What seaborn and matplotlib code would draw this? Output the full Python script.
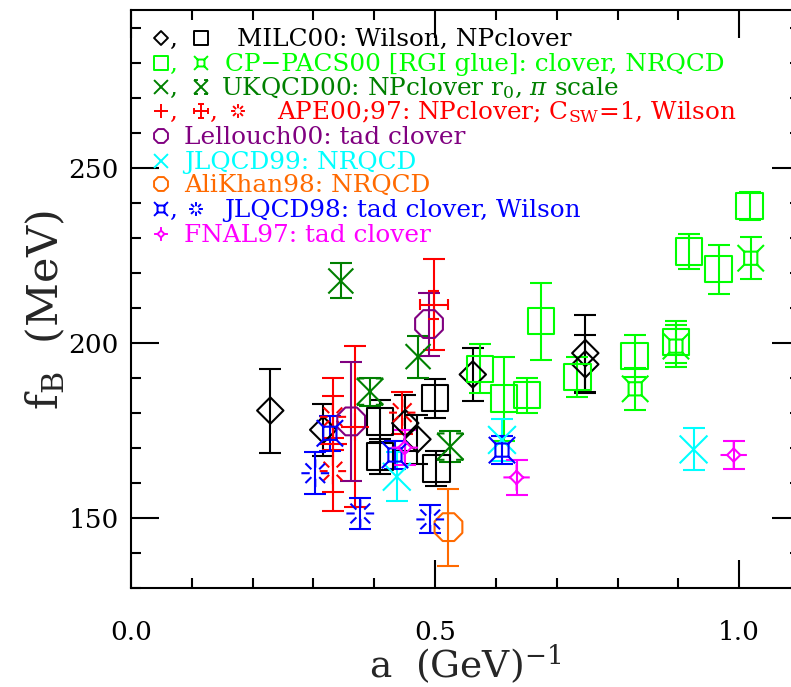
import numpy as np
import matplotlib
matplotlib.use("Agg")
import matplotlib.pyplot as plt
from matplotlib.path import Path
from matplotlib.markers import MarkerStyle
from matplotlib.ticker import MultipleLocator, FixedLocator
import seaborn as sns

# ---------------- data: lattice spacing a (GeV^-1), f_B (MeV), error ----------------
milc_w_a = [0.229, 0.316, 0.451, 0.471, 0.562, 0.747, 0.747]
milc_w_f = [180.6, 175.1, 177.0, 172.4, 190.9, 197.0, 193.8]
milc_w_e = [12.0, 7.5, 8.0, 7.0, 7.7, 11.0, 8.3]

milc_c_a = [0.4095, 0.4095, 0.500, 0.502]
milc_c_f = [177.5, 167.5, 184.1, 164.1]
milc_c_e = [6.0, 5.0, 5.5, 5.0]

cpp_c_a = [0.574, 0.613, 0.651, 0.674, 0.734, 0.828, 0.896, 0.917, 0.966, 1.017]
cpp_c_f = [192.5, 184.0, 185.0, 206.1, 190.1, 196.1, 200.1, 226.0, 221.0, 239.0]
cpp_c_e = [7.0, 12.0, 5.0, 11.0, 5.7, 6.0, 6.0, 5.0, 7.0, 4.0]

cpp_n_a = [0.829, 0.896, 1.019]
cpp_n_f = [186.8, 199.0, 224.1]
cpp_n_e = [6.0, 6.0, 6.0]

ukq_r0_a = [0.345, 0.472]
ukq_r0_f = [217.6, 196.0]
ukq_r0_e = [5.0, 6.0]

ukq_pi_a = [0.393, 0.525]
ukq_pi_f = [186.0, 170.3]
ukq_pi_e = [4.0, 4.5]

ape_np_a = [0.332, 0.368]
ape_np_f = [171.0, 176.0]
ape_np_e = [19.0, 23.0]

ape_csw_a = [0.498]
ape_csw_f = [210.8]
ape_csw_e = [13.0]

ape_w_a = [0.332, 0.332, 0.446]
ape_w_f = [178.8, 163.3, 180.0]
ape_w_e = [6.0, 6.0, 6.0]

lel_a = [0.362, 0.490]
lel_f = [177.5, 205.3]
lel_e = [17.0, 9.0]

jl99_a = [0.437, 0.610, 0.925]
jl99_f = [161.7, 172.2, 169.5]
jl99_e = [7.0, 6.0, 6.0]

ak98_a = [0.522]
ak98_f = [147.3]
ak98_e = [11.0]

jl98_c_a = [0.327, 0.434, 0.610]
jl98_c_f = [174.1, 167.9, 169.3]
jl98_c_e = [5.0, 4.0, 4.0]

jl98_w_a = [0.303, 0.377, 0.492]
jl98_w_f = [162.7, 151.2, 149.5]
jl98_w_e = [6.0, 4.5, 4.0]

fnal_a = [0.450, 0.634, 0.991]
fnal_f = [170.0, 161.5, 167.9]
fnal_e = [5.0, 5.0, 4.0]

legend_labels = [
    "MILC00: Wilson, NPclover",
    "CP\u2212PACS00 [RGI glue]: clover, NRQCD",
    r"UKQCD00: NPclover r$_0$, $\pi$ scale",
    r"APE00;97: NPclover; C$_{\rm SW}$=1, Wilson",
    "Lellouch00: tad clover",
    "JLQCD99: NRQCD",
    "AliKhan98: NRQCD",
    "JLQCD98: tad clover, Wilson",
    "FNAL97: tad clover",
]

# ---------------- custom marker shapes ----------------
def segs(lst):
    v, c = [], []
    for (x0, y0, x1, y1) in lst:
        v += [(x0, y0), (x1, y1)]
        c += [Path.MOVETO, Path.LINETO]
    return Path(v, c)

def closed(pts):
    v = list(pts) + [pts[0]]
    c = [Path.MOVETO] + [Path.LINETO] * (len(pts) - 1) + [Path.CLOSEPOLY]
    return Path(v, c)

diamond = closed([(0, 0.5), (0.5, 0), (0, -0.5), (-0.5, 0)])
square = closed([(-0.5, -0.5), (0.5, -0.5), (0.5, 0.5), (-0.5, 0.5)])
r8 = 0.5 / np.cos(np.pi / 8)
octagon = closed([(r8 * np.cos(np.pi / 8 + k * np.pi / 4), r8 * np.sin(np.pi / 8 + k * np.pi / 4)) for k in range(8)])
cross = segs([(-0.5, -0.5, 0.5, 0.5), (-0.5, 0.5, 0.5, -0.5)])
plus = segs([(-0.5, 0, 0.5, 0), (0, -0.5, 0, 0.5)])
q = 0.25
sqx = segs([(-q, -q, q, -q), (q, -q, q, q), (q, q, -q, q), (-q, q, -q, -q),
            (q, q, 0.5, 0.5), (-q, q, -0.5, 0.5), (q, -q, 0.5, -0.5), (-q, -q, -0.5, -0.5)])
xbar = segs([(-0.5, -0.5, 0.5, 0.5), (-0.5, 0.5, 0.5, -0.5),
             (-0.5, 0.5, -0.22, 0.5), (0.5, 0.5, 0.22, 0.5),
             (-0.5, -0.5, -0.22, -0.5), (0.5, -0.5, 0.22, -0.5)])
pluscap = segs([(-0.5, 0, 0.5, 0), (0, -0.5, 0, 0.5),
                (-0.5, -0.2, -0.5, 0.2), (0.5, -0.2, 0.5, 0.2),
                (-0.2, 0.5, 0.2, 0.5), (-0.2, -0.5, 0.2, -0.5)])
burst_l = []
for k in range(8):
    ang = k * np.pi / 4
    burst_l.append((0.2 * np.cos(ang), 0.2 * np.sin(ang), 0.5 * np.cos(ang), 0.5 * np.sin(ang)))
burst = segs(burst_l)
dplus = Path(list(diamond.vertices * 0.5) + [(-0.5, 0), (-0.25, 0), (0.25, 0), (0.5, 0),
                                             (0, -0.5), (0, -0.25), (0, 0.25), (0, 0.5)],
             list(diamond.codes) + [Path.MOVETO, Path.LINETO] * 4)

BLACK, LIME, DGREEN, RED = "#000000", "#00ff00", "#008000", "#ff0000"
PURPLE, CYAN, ORANGE, BLUE, MAGENTA = "#800080", "#00ffff", "#ff6a00", "#0000ff", "#ff00ff"

series = [
    (milc_w_a, milc_w_f, milc_w_e, diamond, BLACK, 19),
    (milc_c_a, milc_c_f, milc_c_e, square, BLACK, 19),
    (cpp_c_a, cpp_c_f, cpp_c_e, square, LIME, 19),
    (cpp_n_a, cpp_n_f, cpp_n_e, sqx, LIME, 19),
    (ukq_r0_a, ukq_r0_f, ukq_r0_e, cross, DGREEN, 18),
    (ukq_pi_a, ukq_pi_f, ukq_pi_e, xbar, DGREEN, 19),
    (ape_np_a, ape_np_f, ape_np_e, plus, RED, 20),
    (ape_csw_a, ape_csw_f, ape_csw_e, pluscap, RED, 20),
    (ape_w_a, ape_w_f, ape_w_e, burst, RED, 19),
    (lel_a, lel_f, lel_e, octagon, PURPLE, 20),
    (jl99_a, jl99_f, jl99_e, cross, CYAN, 20),
    (ak98_a, ak98_f, ak98_e, octagon, ORANGE, 20),
    (jl98_c_a, jl98_c_f, jl98_c_e, sqx, BLUE, 19),
    (jl98_w_a, jl98_w_f, jl98_w_e, burst, BLUE, 20),
    (fnal_a, fnal_f, fnal_e, dplus, MAGENTA, 19),
]

# ---------------- figure ----------------
sns.set_style("ticks")
plt.rcParams["font.family"] = ["DejaVu Serif"]
plt.rcParams["mathtext.fontset"] = "dejavuserif"

W, H = 791, 687
fig = plt.figure(figsize=(W / 100, H / 100), dpi=100)
L, R, T, B = 131, 800, 10, 587.7
ax = fig.add_axes([L / W, 1 - B / H, (R - L) / W, (B - T) / H])

LW = 1.5
for a, f, e, mk, col, sz in series:
    ax.errorbar(a, f, yerr=e, fmt="none", ecolor=col, elinewidth=LW, capsize=8, capthick=LW, zorder=2)
    sns.scatterplot(x=a, y=f, marker=MarkerStyle(mk, fillstyle="none"), color=col, s=sz ** 2,
                    linewidth=LW, ax=ax, zorder=3, legend=False)

ax.set_xlim(0.0, 1.1)
ax.set_ylim(130, 295)
ax.xaxis.set_major_locator(FixedLocator([0.0, 0.5, 1.0]))
ax.xaxis.set_minor_locator(MultipleLocator(0.1))
ax.yaxis.set_major_locator(FixedLocator([150, 200, 250]))
ax.yaxis.set_minor_locator(MultipleLocator(10))
ax.set_xticklabels(["0.0", "0.5", "1.0"])
ax.tick_params(which="both", direction="in", top=True, right=True, width=1.5, colors="black")
ax.tick_params(which="major", length=20, labelsize=19)
ax.tick_params(axis="x", which="major", pad=23)
ax.tick_params(axis="y", which="major", pad=9)
ax.tick_params(which="minor", length=7)
for sp in ax.spines.values():
    sp.set_linewidth(1.5)
    sp.set_color("black")

ax.set_xlabel(r"a  (GeV)$^{-1}$", fontsize=27)
ax.set_ylabel(r"f$_{\rm B}$  (MeV)", fontsize=31)
ax.xaxis.set_label_coords(0.5, -0.095)
ax.yaxis.set_label_coords(-0.095, 0.48)

# ---------------- legend (drawn by hand in pixel layout) ----------------
def fx(px):
    return px / W

def fy(py):
    return 1 - py / H

rows = [38, 63, 87, 111, 136, 161, 184, 209, 234]
row_syms = [
    [(diamond, BLACK), (square, BLACK)],
    [(square, LIME), (sqx, LIME)],
    [(cross, DGREEN), (xbar, DGREEN)],
    [(plus, RED), (pluscap, RED), (burst, RED)],
    [(octagon, PURPLE)],
    [(cross, CYAN)],
    [(octagon, ORANGE)],
    [(sqx, BLUE), (burst, BLUE)],
    [(dplus, MAGENTA)],
]
row_cols = [BLACK, LIME, DGREEN, RED, PURPLE, CYAN, ORANGE, BLUE, MAGENTA]
text_x = [237, 225, 221, 277, 184, 184, 184, 224, 184]
sym_x = {1: [161], 2: [161, 201], 3: [161, 201, 238]}
FS = 17.8
for i, y in enumerate(rows):
    syms = row_syms[i]
    xs = sym_x[len(syms)]
    if i == 7:
        xs = [161, 196]
    for j, (mk, col) in enumerate(syms):
        ax.scatter([fx(xs[j])], [fy(y)], marker=MarkerStyle(mk, fillstyle="none"), color=col,
                   s=10 ** 2, linewidth=1.4, transform=fig.transFigure, zorder=5, clip_on=False)
        if j < len(syms) - 1:
            ax.text(fx(xs[j] + 8), fy(y + 8), ",", color=col, fontsize=FS,
                    transform=fig.transFigure, ha="left", va="baseline")
    ax.text(fx(text_x[i]), fy(y + 8), legend_labels[i], color=row_cols[i], fontsize=FS,
            transform=fig.transFigure, ha="left", va="baseline")

fig.savefig("out.png", dpi=100)
